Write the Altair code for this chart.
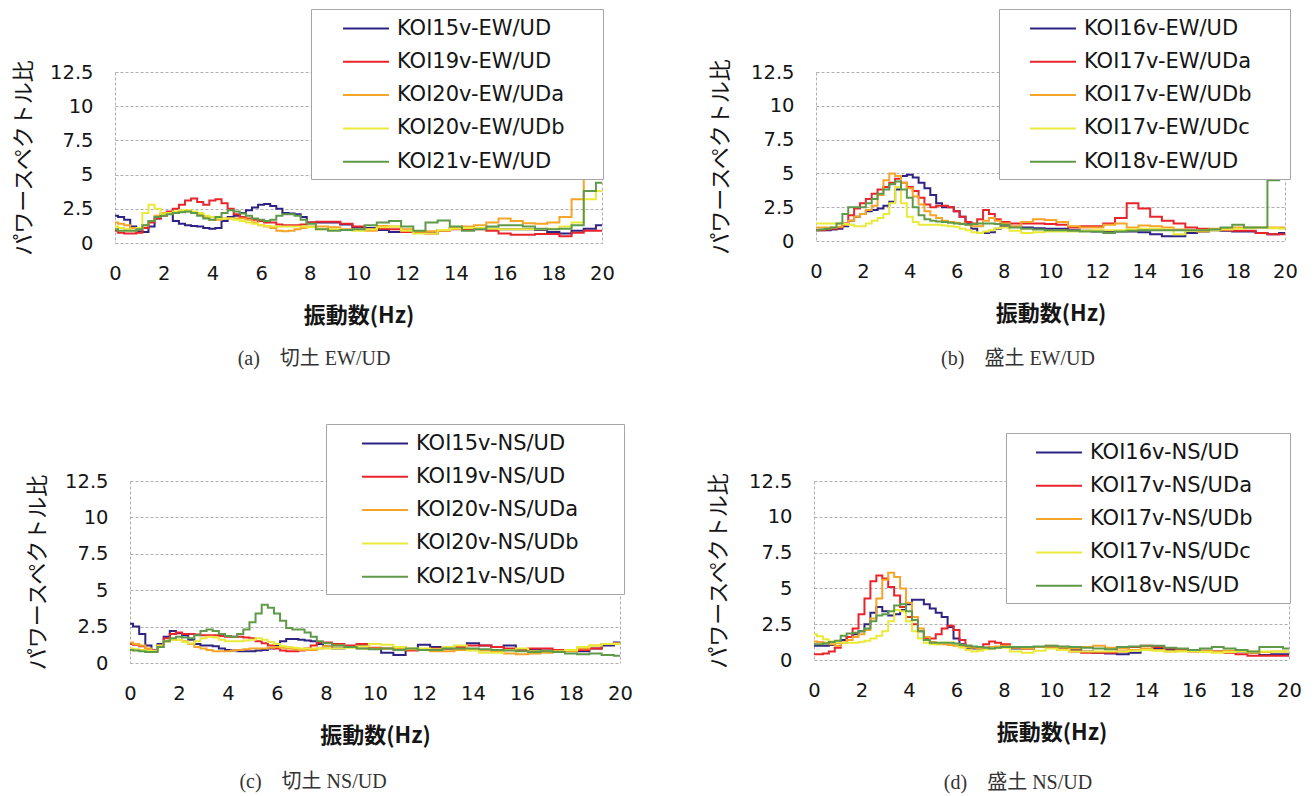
import altair as alt
import pandas as pd

# ---------------- data ----------------
FREQ = [0, 0.25, 0.5, 0.75, 1, 1.25, 1.5, 1.75, 2, 2.25, 2.5, 2.75, 3, 3.25, 3.5, 3.75,
        4, 4.25, 4.5, 4.75, 5, 5.25, 5.5, 5.75, 6, 6.25, 6.5, 6.75, 7, 7.25, 7.5, 7.75, 8,
        8.5, 9, 9.5, 10, 10.5, 11, 11.5, 12, 12.5, 13, 13.5, 14, 14.5, 15, 15.5, 16,
        16.5, 17, 17.5, 18, 18.5, 19, 19.5, 20]

X_TICKS = [0, 2, 4, 6, 8, 10, 12, 14, 16, 18, 20]
Y_TICKS = [0, 2.5, 5, 7.5, 10, 12.5]
COLORS = ["#2e2383", "#e8242c", "#f4a52a", "#eaea3a", "#5f9a4a"]

# (a) 切土 EW/UD
NAMES_A = ["KOI15v-EW/UD", "KOI19v-EW/UD", "KOI20v-EW/UDa", "KOI20v-EW/UDb", "KOI21v-EW/UD"]
A_KOI15 = [2.0, 1.9, 1.7, 1.2, 0.85, 0.8, 1.2, 1.8, 2.1, 2.2, 1.6, 1.4, 1.3, 1.25, 1.2, 1.1,
           1.05, 1.1, 1.6, 1.9, 2.0, 2.2, 2.4, 2.6, 2.8, 2.85, 2.7, 2.5, 2.2, 2.15, 2.1, 1.9, 1.5,
           1.5, 1.5, 1.35, 1.15, 1.1, 0.95, 0.8, 0.85, 0.85, 0.75, 0.95, 1.1, 1.1, 1.1, 1.05, 1.0,
           1.0, 1.0, 0.95, 0.8, 0.7, 0.9, 1.05, 1.3]
A_KOI19 = [0.9, 0.75, 0.7, 0.7, 0.75, 1.1, 1.5, 1.8, 2.0, 2.3, 2.5, 2.8, 3.1, 3.25, 3.0, 2.8,
           3.1, 3.2, 2.9, 2.5, 2.1, 1.9, 1.8, 1.7, 1.6, 1.5, 1.5, 1.35, 1.3, 1.3, 1.3, 1.35, 1.5,
           1.55, 1.55, 1.4, 1.2, 1.0, 1.05, 1.0, 0.8, 0.8, 0.7, 0.9, 1.0, 1.0, 1.0, 0.9, 0.7,
           0.6, 0.6, 0.65, 0.65, 0.5, 0.75, 0.9, 0.9]
A_KOI20A = [1.5, 1.4, 1.3, 1.1, 1.0, 1.3, 1.6, 2.0, 2.2, 2.2, 2.2, 2.3, 2.3, 2.2, 2.1, 1.9,
            1.7, 1.7, 1.8, 1.8, 1.8, 1.8, 1.7, 1.5, 1.3, 1.2, 1.1, 0.9, 0.85, 0.9, 1.0, 1.1, 1.2,
            1.2, 1.15, 1.0, 0.95, 0.9, 1.25, 1.2, 1.0, 0.85, 0.85, 0.9, 1.1, 1.2, 1.3, 1.5, 1.8,
            1.6, 1.45, 1.4, 1.5, 1.9, 3.2, 5.5, 7.0]
A_KOI20B = [1.2, 1.1, 1.0, 0.9, 1.1, 2.2, 2.8, 2.5, 2.1, 2.2, 2.3, 2.4, 2.4, 2.3, 2.2, 2.0,
            1.9, 1.8, 1.8, 1.8, 1.7, 1.6, 1.5, 1.4, 1.3, 1.25, 1.2, 1.2, 1.2, 1.2, 1.2, 1.2, 1.15,
            1.0, 1.0, 0.95, 0.9, 1.0, 1.15, 1.2, 0.9, 0.7, 0.7, 0.95, 1.05, 1.1, 1.1, 1.05, 1.0,
            1.0, 1.0, 1.0, 1.05, 1.2, 1.5, 3.2, 3.8]
A_KOI21 = [1.0, 0.9, 0.9, 0.9, 1.0, 1.3, 1.6, 1.9, 2.0, 2.1, 2.2, 2.25, 2.3, 2.2, 2.0, 1.8,
           1.7, 1.9, 2.2, 2.4, 2.3, 2.15, 2.0, 1.8, 1.7, 1.6, 1.7, 2.0, 2.1, 2.1, 2.0, 1.7, 1.4,
           1.0, 0.9, 0.95, 1.0, 1.3, 1.5, 1.6, 1.2, 0.9, 1.5, 1.65, 1.2, 0.9, 1.0, 1.2, 1.3,
           1.3, 1.2, 1.05, 1.0, 1.05, 1.3, 3.8, 4.4]

# (b) 盛土 EW/UD
NAMES_B = ["KOI16v-EW/UD", "KOI17v-EW/UDa", "KOI17v-EW/UDb", "KOI17v-EW/UDc", "KOI18v-EW/UD"]
B_KOI16 = [0.8, 0.8, 0.8, 0.85, 0.9, 1.1, 1.5, 1.8, 2.0, 2.2, 2.3, 2.4, 2.6, 2.9, 3.8, 4.8,
           4.9, 4.7, 4.3, 3.9, 3.4, 2.8, 2.5, 2.5, 2.2, 1.8, 1.3, 0.9, 0.6, 0.6, 0.65, 0.9, 1.1,
           1.05, 1.0, 0.95, 0.9, 0.9, 0.8, 0.75, 0.7, 0.7, 0.7, 0.7, 0.65, 0.5, 0.35, 0.35, 0.6,
           0.7, 0.8, 0.75, 0.7, 0.7, 0.6, 0.5, 0.6]
B_KOI17A = [0.8, 0.8, 0.85, 0.9, 1.0, 1.3, 1.9, 2.4, 2.8, 3.1, 3.5, 3.8, 4.0, 4.3, 4.6, 4.3,
            4.0, 3.7, 3.2, 2.7, 2.5, 2.6, 2.6, 2.5, 2.2, 1.8, 1.4, 1.3, 1.6, 2.3, 2.0, 1.6, 1.4,
            1.3, 1.3, 1.3, 1.25, 1.2, 1.0, 1.1, 1.1, 1.3, 1.7, 2.8, 2.4, 1.8, 1.5, 1.3, 1.0,
            0.9, 0.85, 0.8, 0.75, 0.75, 0.6, 0.5, 0.5]
B_KOI17B = [1.0, 1.0, 1.0, 1.0, 1.05, 1.2, 1.5, 1.8, 2.0, 2.3, 2.6, 3.4, 4.5, 5.0, 4.8, 4.3,
            3.9, 3.3, 2.7, 2.2, 1.9, 1.7, 1.5, 1.4, 1.35, 1.3, 1.2, 1.1, 1.1, 1.5, 1.7, 1.5, 1.3,
            1.1, 1.4, 1.6, 1.55, 1.4, 1.1, 1.0, 1.0, 1.2, 1.3, 1.0, 1.15, 1.1, 1.0, 0.85, 0.8,
            0.7, 0.9, 0.95, 1.0, 1.0, 1.0, 1.0, 1.0]
B_KOI17C = [1.3, 1.3, 1.3, 1.3, 1.3, 1.25, 1.2, 1.1, 1.1, 1.3, 1.5, 1.7, 2.0, 2.8, 4.0, 2.8,
            1.8, 1.4, 1.2, 1.2, 1.2, 1.2, 1.15, 1.1, 1.05, 0.9, 0.8, 0.65, 0.6, 0.7, 0.8, 0.95, 1.0,
            0.75, 0.6, 0.65, 0.7, 0.7, 0.7, 0.75, 0.8, 0.8, 0.8, 0.85, 0.9, 0.9, 0.85, 0.5, 0.75,
            0.8, 0.8, 0.85, 0.9, 0.95, 1.0, 0.95, 0.9]
B_KOI18 = [0.8, 0.85, 0.9, 1.0, 1.3, 2.0, 2.5, 2.5, 2.5, 2.8, 3.1, 3.5, 3.8, 4.2, 4.4, 3.8,
           3.2, 2.5, 1.9, 1.6, 1.5, 1.45, 1.4, 1.35, 1.3, 1.25, 1.2, 1.25, 1.3, 1.3, 1.3, 1.25, 1.2,
           1.0, 0.9, 0.85, 0.8, 0.8, 0.75, 0.7, 0.7, 0.6, 0.7, 0.75, 0.8, 0.8, 0.8, 0.8, 0.8,
           0.8, 0.85, 1.0, 1.2, 1.0, 1.0, 4.5, 8.0]

# (c) 切土 NS/UD
NAMES_C = ["KOI15v-NS/UD", "KOI19v-NS/UD", "KOI20v-NS/UDa", "KOI20v-NS/UDb", "KOI21v-NS/UD"]
C_KOI15 = [2.7, 2.5, 2.0, 1.2, 0.85, 1.3, 1.8, 2.2, 2.05, 1.9, 1.6, 1.3, 1.2, 1.2, 1.15, 1.0,
           0.9, 0.85, 0.8, 0.8, 0.8, 0.85, 0.9, 1.0, 1.2, 1.5, 1.65, 1.65, 1.6, 1.55, 1.5, 1.3, 1.15,
           1.0, 1.1, 1.2, 1.0, 0.7, 0.55, 0.9, 1.25, 1.1, 1.0, 1.15, 1.35, 1.2, 1.1, 1.2, 0.95,
           0.9, 0.85, 0.8, 0.9, 0.8, 1.0, 1.2, 1.4]
C_KOI19 = [1.3, 1.25, 1.15, 0.9, 0.85, 1.2, 1.7, 2.0, 2.1, 2.0, 2.0, 1.95, 1.9, 1.9, 1.9, 1.85,
           1.8, 1.8, 1.8, 1.75, 1.7, 1.5, 1.35, 1.2, 1.0, 0.85, 0.8, 0.8, 0.85, 1.0, 1.2, 1.4, 1.4,
           1.3, 1.2, 1.3, 1.05, 1.0, 1.1, 0.85, 0.9, 1.0, 1.0, 1.1, 1.2, 1.2, 1.1, 1.0, 0.85,
           1.0, 1.0, 0.9, 0.9, 0.9, 1.0, 1.3, 1.3]
C_KOI20A = [1.4, 1.3, 1.2, 1.0, 0.8, 1.1, 1.5, 1.6, 1.6, 1.5, 1.3, 1.1, 1.0, 0.9, 0.8, 0.8,
            0.8, 0.85, 0.9, 0.95, 1.0, 1.0, 1.0, 1.05, 1.1, 1.05, 1.0, 0.95, 0.9, 0.9, 0.9, 1.0, 1.15,
            1.2, 1.1, 1.0, 1.0, 1.0, 1.0, 0.95, 0.9, 0.8, 0.8, 0.9, 0.9, 0.85, 0.8, 0.65, 0.6,
            0.65, 0.7, 0.75, 0.8, 1.0, 1.2, 1.3, 1.35]
C_KOI20B = [1.0, 0.95, 0.9, 0.85, 0.8, 1.2, 1.5, 1.6, 1.6, 1.45, 1.35, 1.5, 1.7, 1.8, 1.75, 1.6,
            1.5, 1.5, 1.5, 1.55, 1.6, 1.7, 1.6, 1.45, 1.3, 1.15, 1.1, 1.05, 1.0, 1.0, 1.0, 1.0, 1.0,
            1.0, 1.05, 1.15, 1.3, 1.25, 1.1, 1.0, 1.0, 0.95, 1.1, 1.2, 0.85, 0.7, 0.7, 0.9, 1.0,
            0.8, 0.8, 0.8, 0.9, 1.1, 1.2, 1.3, 1.3]
C_KOI21 = [0.9, 0.85, 0.8, 0.75, 0.75, 1.1, 1.5, 1.7, 1.8, 1.75, 1.7, 1.9, 2.2, 2.3, 2.2, 2.0,
           1.85, 1.8, 2.0, 2.3, 2.8, 3.4, 4.0, 3.8, 3.4, 2.9, 2.4, 2.3, 2.3, 2.1, 1.8, 1.5, 1.35,
           1.2, 1.1, 1.0, 0.95, 1.0, 0.9, 1.0, 0.9, 0.9, 1.0, 1.0, 1.0, 0.95, 0.9, 0.85, 0.8,
           0.75, 0.8, 0.75, 0.65, 0.6, 0.65, 0.55, 0.5]

# (d) 盛土 NS/UD
NAMES_D = ["KOI16v-NS/UD", "KOI17v-NS/UDa", "KOI17v-NS/UDb", "KOI17v-NS/UDc", "KOI18v-NS/UD"]
D_KOI16 = [1.0, 1.0, 1.0, 1.05, 1.2, 1.4, 1.6, 1.8, 2.0, 2.5, 3.3, 3.7, 3.4, 3.1, 3.2, 3.5,
           3.9, 4.2, 4.2, 3.9, 3.6, 3.3, 3.0, 2.3, 1.5, 1.1, 0.85, 0.8, 0.8, 0.85, 0.9, 0.9, 0.9,
           0.8, 0.8, 0.9, 0.9, 0.8, 0.7, 0.6, 0.5, 0.45, 0.4, 0.5, 0.7, 0.8, 0.7, 0.7, 0.7,
           0.65, 0.6, 0.6, 0.6, 0.5, 0.35, 0.4, 0.4]
D_KOI17A = [0.4, 0.4, 0.45, 0.6, 0.85, 1.2, 1.6, 2.2, 3.2, 4.3, 5.5, 5.9, 5.7, 5.1, 4.5, 3.7,
            3.0, 2.5, 2.0, 1.5, 1.5, 1.8, 2.2, 2.4, 2.1, 1.4, 1.0, 0.9, 0.9, 1.1, 1.3, 1.2, 1.1,
            0.9, 0.8, 0.9, 0.9, 0.7, 0.6, 0.5, 0.5, 0.5, 0.6, 0.9, 1.0, 0.9, 0.8, 0.7, 0.6,
            0.6, 0.6, 0.5, 0.4, 0.3, 0.3, 0.3, 0.3]
D_KOI17B = [1.3, 1.25, 1.2, 1.1, 1.0, 1.2, 1.4, 1.6, 1.8, 2.1, 2.9, 4.3, 5.6, 6.1, 5.8, 5.0,
            4.0, 3.0, 2.2, 1.6, 1.25, 1.1, 1.1, 1.05, 1.0, 0.95, 0.9, 0.85, 0.8, 0.85, 0.9, 0.95, 1.0,
            0.85, 0.8, 0.9, 1.0, 0.85, 0.8, 0.9, 1.0, 0.85, 0.8, 0.7, 0.8, 0.7, 0.6, 0.65, 0.7,
            0.65, 0.6, 0.65, 0.7, 0.5, 0.55, 0.6, 0.6]
D_KOI17C = [1.8, 1.65, 1.45, 1.3, 1.2, 1.2, 1.2, 1.2, 1.25, 1.35, 1.5, 1.7, 2.0, 2.7, 3.5, 3.4,
            2.7, 2.0, 1.5, 1.2, 1.1, 1.15, 1.2, 1.2, 1.1, 0.85, 0.7, 0.6, 0.65, 0.75, 0.8, 0.85, 0.85,
            0.6, 0.5, 0.65, 0.8, 0.7, 0.6, 0.6, 0.6, 0.6, 0.6, 0.65, 0.7, 0.65, 0.6, 0.6, 0.6,
            0.55, 0.5, 0.55, 0.6, 0.6, 0.6, 0.6, 0.6]
D_KOI18 = [1.1, 1.1, 1.15, 1.25, 1.35, 1.7, 1.85, 1.9, 2.0, 2.2, 2.7, 3.1, 3.2, 3.4, 3.8, 3.9,
           3.4, 2.8, 2.0, 1.4, 1.2, 1.2, 1.2, 1.2, 1.15, 1.05, 1.0, 0.95, 0.9, 0.85, 0.8, 0.85, 0.9,
           0.9, 0.9, 0.95, 1.0, 0.95, 0.9, 0.85, 0.8, 0.75, 0.9, 0.95, 1.0, 1.0, 0.85, 0.8, 0.7,
           0.8, 0.9, 0.8, 0.7, 0.6, 0.9, 0.9, 0.8]

CAPTIONS = ["(a)\u3000切土 EW/UD", "(b)\u3000盛土 EW/UD", "(c)\u3000切土 NS/UD", "(d)\u3000盛土 NS/UD"]

# ---------------- helpers ----------------
TICK_FONT = "DejaVu Sans"
CJK_FONT = "Noto Sans CJK JP"
GRID_COLOR = "#b2aeb0"


def long_table(names, series):
    rows = []
    for name, vals in zip(names, series):
        for f, v in zip(FREQ, vals):
            rows.append({"freq": f, "ratio": v, "series": name})
    return pd.DataFrame(rows)


def panel(names, series, caption, width, height, x_range, y_offset,
          legend_x, legend_y, legend_extra, sym_shift, ytitle_x, cap_dx, cap_offset):
    df = long_table(names, series)
    x_axis = alt.Axis(
        values=X_TICKS, format="d", title="振動数(Hz)",
        grid=True, gridColor=GRID_COLOR, gridDash=[3, 2],
        gridOpacity={"condition": {"test": "datum.value == 0 || datum.value == 20", "value": 1},
                     "value": 0},
        domain=False, ticks=False, tickSize=0, labelPadding=21,
        labelFlush=False, labelOverlap=False,
        labelFont=TICK_FONT, labelFontSize=19.5, labelColor="#151515",
        titleFont=CJK_FONT, titleFontSize=22, titleFontWeight="bold", titleColor="#151515",
        titleX=(x_range[0] + x_range[1]) / 2, titleY=72, titleBaseline="middle",
        titleAlign="center",
    )
    y_axis = alt.Axis(
        values=Y_TICKS, format=".1~f", title="パワースペクトル比",
        grid=True, gridColor=GRID_COLOR, gridDash=[3, 2],
        domain=False, ticks=False, tickSize=0, labelPadding=22, offset=y_offset,
        labelFont=TICK_FONT, labelFontSize=19.5, labelColor="#151515",
        labelOverlap=False,
        titleFont=CJK_FONT, titleFontSize=22, titleFontWeight="normal", titleColor="#151515",
        titleAngle=270, titleX=ytitle_x, titleY=height / 2,
        titleAlign="center", titleBaseline="middle",
    )
    legend = alt.Legend(
        title="\u00a0", titleOrient="right", titlePadding=legend_extra, titleFontSize=1,
        orient="none", legendX=legend_x, legendY=legend_y,
        fillColor="white", strokeColor="#a6a6a6", padding=7,
        symbolType="M-2,0H2", symbolSize=529, symbolStrokeWidth=2,
        symbolOffset=35.5 + sym_shift, labelOffset=18.5, rowPadding=10.3, labelLimit=400,
        labelFont=TICK_FONT, labelFontSize=21, labelColor="#151515",
        zindex=1,
    )
    return (
        alt.Chart(df)
        .mark_line(strokeWidth=2, interpolate="step")
        .encode(
            x=alt.X("freq:Q", scale=alt.Scale(domain=[0, 20], range=x_range, nice=False),
                    axis=x_axis),
            y=alt.Y("ratio:Q", scale=alt.Scale(domain=[0, 12.5], nice=False, zero=True),
                    axis=y_axis),
            color=alt.Color("series:N", scale=alt.Scale(domain=names, range=COLORS),
                            legend=legend),
            order=alt.Order("freq:Q"),
        )
        .properties(
            width=width, height=height,
            title=alt.TitleParams(
                caption, orient="bottom", anchor="middle", frame="group",
                dx=cap_dx, offset=cap_offset,
                font="Liberation Serif, Noto Sans CJK JP", fontSize=20,
                fontWeight="normal", color="#333333",
            ),
        )
    )


pa = panel(NAMES_A, [A_KOI15, A_KOI19, A_KOI20A, A_KOI20B, A_KOI21], CAPTIONS[0],
           487, 171, [0, 487], 0, 196, -63, 32, 0, -92, -44.5, 23)
pb = panel(NAMES_B, [B_KOI16, B_KOI17A, B_KOI17B, B_KOI17C, B_KOI18], CAPTIONS[1],
           469, 169, [0, 469], 0, 183, -63, 32, -1, -96, -32.5, 25)
pc = panel(NAMES_C, [C_KOI15, C_KOI19, C_KOI20A, C_KOI20B, C_KOI21], CAPTIONS[2],
           505, 182, [15, 505], -15, 211, -57, 39, 4, -93, -54.5, 26)
pd_ = panel(NAMES_D, [D_KOI16, D_KOI17A, D_KOI17B, D_KOI17C, D_KOI18], CAPTIONS[3],
            475, 179, [0, 475], 0, 192, -48, 31, -2, -96, -33.5, 30)

top = alt.hconcat(pa, pb, spacing=214, bounds="flush").resolve_scale(
    color="independent", x="independent", y="independent").resolve_legend(color="independent")
bottom = alt.hconcat(pc, pd_, spacing=194, bounds="flush").resolve_scale(
    color="independent", x="independent", y="independent").resolve_legend(color="independent")

chart = (
    alt.vconcat(top, bottom, spacing=409, bounds="flush")
    .resolve_scale(color="independent", x="independent", y="independent")
    .resolve_legend(color="independent")
    .configure(background="white", padding={"left": 11, "top": 8, "right": 5, "bottom": 5})
    .configure_view(stroke="transparent")
)

chart.save("out.html", embed_options={"renderer": "svg", "actions": False})
